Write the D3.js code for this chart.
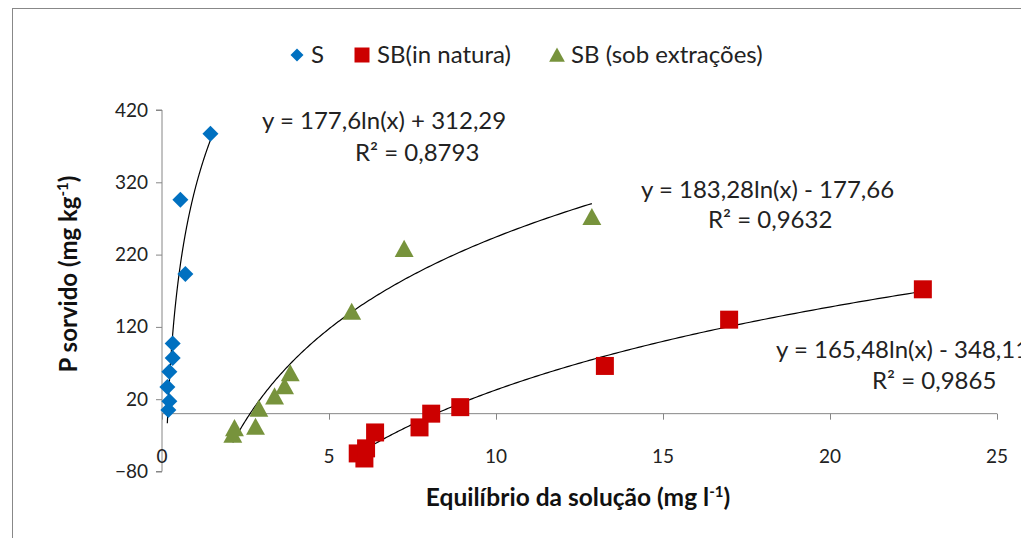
<!DOCTYPE html>
<html><head><meta charset="utf-8">
<script src="https://cdn.jsdelivr.net/npm/d3@7/dist/d3.min.js"></script>
<style>
html,body{margin:0;padding:0;background:#fff;}
svg{display:block;font-family:Lato,"Open Sans",sans-serif;}
</style></head>
<body><svg id="c" width="1021" height="538"></svg>
<script>
// ---- data ----
const seriesNames = ["S", "SB(in natura)", "SB (sob extrações)"];
const sX = [0.16, 0.19, 0.22, 0.22, 0.32, 0.32, 0.55, 0.70, 1.45];
const sY = [37, 5, 17, 58, 77, 97, 296, 193, 387];
const sbX = [5.86, 6.06, 6.11, 6.38, 7.71, 8.06, 8.93, 13.26, 16.98, 22.78];
const sbY = [-55, -62, -48, -26, -19, 0, 9, 66, 130, 172];
const sbeX = [2.12, 2.17, 2.80, 2.90, 3.37, 3.67, 3.84, 5.68, 7.25, 12.87];
const sbeY = [-29, -20, -18, 7, 24, 38, 56, 141, 228, 272];
const fitA = [177.6, 165.48, 183.28];
const fitB = [312.29, -348.11, -177.66];
const eqText = ["y = 177,6ln(x) + 312,29", "y = 165,48ln(x) - 348,11", "y = 183,28ln(x) - 177,66"];
const r2Text = ["R² = 0,8793", "R² = 0,9865", "R² = 0,9632"];
const xTicks = [0, 5, 10, 15, 20, 25];
const yTicks = [-80, 20, 120, 220, 320, 420];
const colors = ["#0070C0", "#CC0000", "#77933C"];

const svg = d3.select("#c");
const x = d3.scaleLinear().domain([0, 25]).range([162, 997]);
const y = d3.scaleLinear().domain([-80, 420]).range([471.5, 110]);

const FS = "24px";

// chart border
svg.append("rect").attr("x", 12.5).attr("y", 8.5).attr("width", 1100).attr("height", 600)
  .attr("fill", "none").attr("stroke", "#888").attr("stroke-width", 1);

// y axis
const yAxis = d3.axisLeft(y).tickValues(yTicks).tickSize(6).tickPadding(8).tickFormat(d3.format("d"));
const gy = svg.append("g").attr("transform", `translate(${x(0)},0)`).call(yAxis);
gy.select(".domain").attr("stroke", "#868686").attr("d", `M-6,${y(420)}H0V${y(-80)}H-6`);
gy.selectAll(".tick line").attr("stroke", "#868686");
gy.selectAll(".tick text").attr("fill", "#222").style("font-size", "19px").style("font-family", "Lato, sans-serif");

// x axis (crosses at y=0), labels at bottom
const xAxis = d3.axisBottom(x).tickValues(xTicks).tickSize(6).tickFormat("");
const gx = svg.append("g").attr("transform", `translate(0,${y(0)})`).call(xAxis);
gx.select(".domain").attr("stroke", "#868686").attr("d", `M${x(0)},0H${x(25)}`);
gx.selectAll(".tick line").attr("stroke", "#868686");
svg.append("g").selectAll("text").data(xTicks).join("text")
  .attr("x", d => x(d)).attr("y", y(-80) - 9).attr("text-anchor", "middle")
  .attr("fill", "#222").style("font-size", "19px").text(d => d);

// trendlines
const allX = [sX, sbX, sbeX];
const allY = [sY, sbY, sbeY];
const line = d3.line().x(d => x(d[0])).y(d => y(d[1]));
for (let i = 0; i < 3; i++) {
  const [lo, hi] = d3.extent(allX[i]);
  const pts = d3.range(0, 201).map(k => {
    const v = lo * Math.pow(hi / lo, k / 200);
    return [v, fitA[i] * Math.log(v) + fitB[i]];
  });
  svg.append("path").attr("d", line(pts)).attr("fill", "none").attr("stroke", "#000").attr("stroke-width", 1.2);
}

// marker shapes
const diamond = { draw(ctx, size) { const r = Math.sqrt(size) / 2; ctx.moveTo(0, -r); ctx.lineTo(r, 0); ctx.lineTo(0, r); ctx.lineTo(-r, 0); ctx.closePath(); } };
const square = { draw(ctx, size) { const r = Math.sqrt(size) / 2; ctx.rect(-r, -r, 2 * r, 2 * r); } };
const tri = { draw(ctx, size) { const r = Math.sqrt(size) / 2; ctx.moveTo(0, -r); ctx.lineTo(r * 1.05, r * 0.9); ctx.lineTo(-r * 1.05, r * 0.9); ctx.closePath(); } };
const shapes = [diamond, square, tri];
const sizes = [16 * 16, 18 * 18, 18 * 18];

[2, 1, 0].forEach(i => {
  const data = allX[i].map((v, k) => [v, allY[i][k]]);
  svg.append("g").selectAll("path").data(data).join("path")
    .attr("transform", d => `translate(${x(d[0])},${y(d[1])})`)
    .attr("d", d3.symbol(shapes[i], sizes[i]))
    .attr("fill", colors[i]);
});

// equations (left-anchored)
const eqPos = [[262, 129, 355, 161], [776, 358, 872, 389], [641, 198, 708, 228]];
for (let i = 0; i < 3; i++) {
  svg.append("text").attr("x", eqPos[i][0]).attr("y", eqPos[i][1])
    .attr("fill", "#222").style("font-size", FS).text(eqText[i]);
  svg.append("text").attr("x", eqPos[i][2]).attr("y", eqPos[i][3])
    .attr("fill", "#222").style("font-size", FS).text(r2Text[i]);
}

// legend
const legX = [297, 362, 557];
const legT = [311, 377, 571];
[0, 1, 2].forEach(i => {
  svg.append("path").attr("transform", `translate(${legX[i]},55)`)
    .attr("d", d3.symbol(shapes[i], i === 0 ? 13 * 13 : 15 * 15)).attr("fill", colors[i]);
  svg.append("text").attr("x", legT[i]).attr("y", 63).attr("fill", "#222")
    .style("font-size", FS).text(seriesNames[i]);
});

// axis titles
const yt = svg.append("text").attr("transform", "translate(77,274) rotate(-90)").attr("text-anchor", "middle")
  .attr("fill", "#111").style("font-size", "24px").style("font-weight", "bold");
yt.append("tspan").text("P sorvido (mg kg");
yt.append("tspan").attr("dy", -9).style("font-size", "15px").text("-1");
yt.append("tspan").attr("dy", 9).text(")");

const xt = svg.append("text").attr("x", 578).attr("y", 506).attr("text-anchor", "middle")
  .attr("fill", "#111").style("font-size", "24.5px").style("font-weight", "bold");
xt.append("tspan").text("Equilíbrio da solução (mg l");
xt.append("tspan").attr("dy", -9).style("font-size", "15px").text("-1");
xt.append("tspan").attr("dy", 9).text(")");
</script></body></html>
